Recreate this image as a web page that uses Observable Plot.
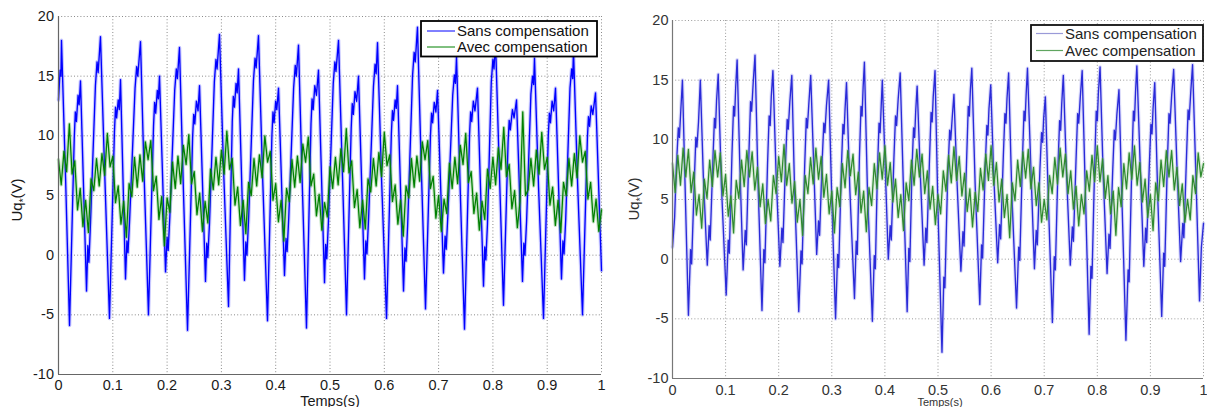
<!DOCTYPE html>
<html><head><meta charset="utf-8">
<script src="https://cdn.jsdelivr.net/npm/d3@7"></script>
<script src="https://cdn.jsdelivr.net/npm/@observablehq/plot@0.6"></script>
<style>
body{margin:0;background:#fff;}
#wrap{position:relative;width:1207px;height:407px;overflow:hidden;font-family:"Liberation Sans",Arial,sans-serif;background:#fff;}
.pane{position:absolute;top:0;}
</style></head><body><div id="wrap"></div>
<script>
// ---------- data ----------
const xTicks = [0,0.1,0.2,0.3,0.4,0.5,0.6,0.7,0.8,0.9,1];
const yTicks = [-10,-5,0,5,10,15,20];
const seriesNames = ["Sans compensation","Avec compensation"];
const xLabel = "Temps(s)";
const greenDt = 0.005; // sampling step of the "Avec compensation" traces (s)

// Left panel, "Sans compensation" [time s, Uq* V]
const leftBlue = [
[0,13.0],[0.003,15.5],[0.0045,15.0],[0.0055,18.0],
[0.013,6.5],[0.0203,-5.9],[0.029,9.8],[0.031,12.0],[0.033,11.2],[0.036,13.4],[0.038,12.6],[0.0405,14.6],
[0.0516,-3.0],[0.054,0.8],[0.056,-0.6],[0.059,2.8],[0.068,14.2],[0.071,16.2],[0.073,15.3],[0.0773,18.3],
[0.085,7.0],[0.0939,-5.3],[0.103,10.3],[0.105,12.4],[0.107,11.5],[0.110,13.0],[0.112,12.2],[0.1142,14.7],
[0.1234,-2.0],[0.126,1.2],[0.128,0.2],[0.131,3.0],[0.141,14.0],[0.144,15.8],[0.146,15.0],[0.1510,17.9],
[0.158,6.2],[0.1657,-5.0],[0.175,10.8],[0.177,12.8],[0.179,11.9],[0.182,13.8],[0.184,13.1],[0.1860,15.0],
[0.1971,-1.4],[0.200,1.5],[0.202,0.4],[0.205,3.2],[0.214,13.8],[0.217,15.6],[0.219,14.8],[0.2228,17.4],
[0.230,5.5],[0.2376,-6.3],[0.247,9.9],[0.249,11.8],[0.251,11.0],[0.254,12.9],[0.257,12.1],[0.2597,14.2],
[0.2707,-2.2],[0.273,1.0],[0.275,-0.2],[0.278,2.6],[0.287,14.5],[0.290,16.4],[0.292,15.6],[0.2965,18.5],
[0.304,7.2],[0.3131,-4.3],[0.320,11.2],[0.322,13.3],[0.324,12.4],[0.327,14.4],[0.329,13.6],[0.3315,15.6],
[0.3425,-2.1],[0.345,1.1],[0.347,0.0],[0.350,2.9],[0.359,14.6],[0.362,16.5],[0.364,15.7],[0.3683,18.4],
[0.376,6.4],[0.3849,-5.5],[0.393,10.0],[0.395,12.0],[0.397,11.1],[0.400,12.9],[0.402,12.2],[0.4052,14.0],
[0.4162,-1.7],[0.419,1.4],[0.421,0.3],[0.424,3.1],[0.433,14.0],[0.436,15.9],[0.438,15.0],[0.4420,17.6],
[0.449,5.8],[0.4567,-6.1],[0.465,11.0],[0.467,13.1],[0.469,12.2],[0.472,14.2],[0.475,13.4],[0.4788,15.5],
[0.4899,-2.3],[0.492,0.9],[0.494,-0.3],[0.497,2.7],[0.506,14.4],[0.509,16.2],[0.511,15.4],[0.5157,18.0],
[0.523,6.6],[0.5304,-5.0],[0.539,10.6],[0.541,12.7],[0.543,11.8],[0.546,13.7],[0.549,12.9],[0.5525,15.0],
[0.5635,-2.0],[0.566,1.2],[0.568,0.1],[0.571,3.0],[0.580,14.1],[0.583,16.0],[0.585,15.2],[0.5875,17.8],
[0.595,6.3],[0.6041,-5.3],[0.613,10.2],[0.615,12.1],[0.617,11.3],[0.620,13.0],[0.622,12.3],[0.6243,14.2],
[0.6354,-3.0],[0.638,0.6],[0.640,-0.5],[0.643,2.5],[0.652,15.0],[0.655,17.0],[0.657,16.2],[0.6611,19.1],
[0.668,7.5],[0.6759,-4.5],[0.685,10.0],[0.687,11.9],[0.689,11.1],[0.692,12.8],[0.695,12.0],[0.6980,13.8],
[0.7090,-1.5],[0.712,1.6],[0.714,0.5],[0.717,3.3],[0.726,13.4],[0.729,15.1],[0.731,14.4],[0.7330,16.6],
[0.740,5.2],[0.7477,-6.2],[0.757,10.1],[0.759,12.0],[0.761,11.2],[0.764,12.9],[0.767,12.1],[0.7716,14.0],
[0.7827,-2.6],[0.785,0.7],[0.787,-0.4],[0.790,2.6],[0.797,14.5],[0.800,16.4],[0.802,15.6],[0.8048,17.9],
[0.812,6.9],[0.8195,-4.2],[0.828,9.5],[0.830,11.3],[0.832,10.5],[0.836,12.2],[0.839,11.5],[0.8435,13.0],
[0.8545,-2.2],[0.857,1.0],[0.859,0.0],[0.862,2.8],[0.870,13.5],[0.873,15.0],[0.875,14.3],[0.8766,16.5],
[0.884,5.8],[0.8932,-5.3],[0.902,10.0],[0.904,11.9],[0.906,11.1],[0.909,12.9],[0.912,12.1],[0.9153,14.0],
[0.9263,-2.0],[0.929,1.2],[0.931,0.1],[0.934,2.9],[0.942,14.0],[0.945,15.6],[0.947,14.8],[0.9484,17.2],
[0.956,6.0],[0.9650,-5.0],[0.974,9.8],[0.976,11.6],[0.978,10.8],[0.981,12.5],[0.984,11.8],[0.9890,13.6],
[1.000,-1.3]
];

// Left panel, "Avec compensation" values (one every greenDt s)
const leftGreen = [
8.0,5.9,8.7,7.0,11.0,6.8,7.9,3.8,5.6,2.4,
4.6,1.9,6.4,5.4,8.1,5.8,8.5,6.7,10.2,7.4,
8.3,4.4,5.8,2.6,4.5,1.5,6.0,4.9,8.2,5.7,
8.4,6.2,9.5,8.0,9.6,5.4,6.6,3.0,4.9,0.8,
4.8,3.6,7.8,5.6,8.3,6.0,9.2,7.6,10.1,6.0,
7.0,3.4,5.2,2.0,4.5,2.7,7.2,5.5,8.2,5.9,
8.8,6.8,10.4,7.2,8.1,4.2,5.7,2.5,4.6,1.8,
6.1,5.0,8.1,5.8,8.4,6.5,10.0,7.8,8.7,4.6,
6.0,2.8,4.6,1.2,5.6,4.5,8.0,5.7,8.3,6.1,
9.3,7.8,9.9,5.8,6.8,3.3,5.1,2.1,4.4,3.2,
7.4,5.6,8.2,5.9,8.9,7.0,10.6,6.9,7.9,4.0,
5.5,2.3,4.6,2.2,6.4,5.3,8.1,5.8,8.6,6.6,
10.3,7.5,8.4,4.5,5.9,2.6,4.6,1.6,5.8,4.8,
8.1,5.7,8.3,6.2,9.5,8.0,9.6,5.6,6.6,3.1,
5.0,2.0,4.7,3.5,7.7,5.6,8.2,6.0,9.2,7.6,
10.2,6.1,7.0,3.5,5.2,2.1,4.5,3.0,7.2,5.6,
8.2,5.9,9.0,7.2,10.7,6.6,7.6,3.9,5.4,2.3,
4.5,12.0,5.0,5.5,8.1,5.8,8.8,6.8,10.3,7.2,
8.2,4.2,5.7,2.5,4.6,1.9,6.1,5.0,8.1,5.8,
8.5,6.5,10.0,7.8,8.7,4.7,6.1,2.8,4.7,2.0,
3.8
];

// Right panel, "Sans compensation" [time s, Uq* V]
const rightBlue = [
[0.000,1.0],[0.004,3.5],[0.007,7.5],[0.011,11.0],[0.013,10.2],[0.016,12.8],[0.0187,15.0],
[0.024,5.6],[0.0300,-4.7],[0.034,0.8],[0.036,-0.4],[0.041,6.5],[0.044,10.2],[0.046,9.4],[0.049,11.5],[0.0524,15.0],
[0.058,7.0],[0.0655,-0.5],[0.069,2.8],[0.071,1.6],[0.076,8.2],[0.079,11.8],[0.081,11.0],[0.083,13.3],[0.0861,15.5],
[0.092,6.3],[0.1011,-3.0],[0.105,1.6],[0.107,0.5],[0.112,8.8],[0.115,12.8],[0.117,12.0],[0.119,14.4],[0.1217,16.7],
[0.127,7.5],[0.1330,-0.9],[0.137,2.4],[0.139,1.2],[0.144,9.0],[0.147,13.2],[0.149,12.4],[0.152,14.8],[0.1554,17.1],
[0.161,6.5],[0.1685,-4.3],[0.172,0.8],[0.174,-0.3],[0.179,8.0],[0.182,12.0],[0.184,11.2],[0.186,13.6],[0.1891,15.8],
[0.195,7.3],[0.2022,-0.6],[0.206,2.6],[0.208,1.4],[0.213,8.3],[0.216,11.7],[0.218,10.9],[0.221,13.2],[0.2247,15.4],
[0.230,5.6],[0.2378,-4.4],[0.242,0.7],[0.244,-0.4],[0.249,7.9],[0.252,11.8],[0.254,11.0],[0.257,13.2],[0.2603,15.4],
[0.266,7.8],[0.2715,0.4],[0.275,3.2],[0.277,2.0],[0.282,8.4],[0.285,11.4],[0.287,10.6],[0.290,12.9],[0.2940,15.0],
[0.300,5.0],[0.3071,-5.0],[0.311,0.4],[0.313,-0.7],[0.318,7.6],[0.321,11.3],[0.323,10.5],[0.325,12.6],[0.3277,14.8],
[0.334,5.8],[0.3427,-3.3],[0.346,1.5],[0.348,0.4],[0.352,8.5],[0.355,12.8],[0.357,12.0],[0.359,14.4],[0.3614,16.5],
[0.367,6.0],[0.3764,-5.2],[0.380,0.3],[0.382,-0.8],[0.386,7.5],[0.389,11.4],[0.391,10.6],[0.393,12.8],[0.3951,15.0],
[0.401,7.2],[0.4064,0.0],[0.410,2.8],[0.412,1.6],[0.417,8.5],[0.420,12.0],[0.422,11.2],[0.425,13.4],[0.4288,15.6],
[0.435,5.8],[0.4419,-4.4],[0.445,0.9],[0.447,-0.2],[0.451,7.6],[0.454,11.0],[0.456,10.2],[0.458,12.4],[0.4607,14.5],
[0.467,6.8],[0.4738,-0.5],[0.477,2.6],[0.479,1.4],[0.484,8.4],[0.487,12.3],[0.489,11.5],[0.491,13.6],[0.4944,15.8],
[0.500,4.0],[0.5075,-7.8],[0.511,-1.5],[0.513,-2.4],[0.518,6.5],[0.522,10.8],[0.524,10.0],[0.527,12.0],[0.5300,13.8],
[0.536,6.3],[0.5431,-1.0],[0.547,2.3],[0.549,1.1],[0.554,8.5],[0.557,12.8],[0.559,12.0],[0.561,14.2],[0.5637,16.0],
[0.570,6.2],[0.5787,-3.8],[0.582,1.2],[0.584,0.1],[0.589,7.8],[0.592,11.2],[0.594,10.4],[0.596,12.6],[0.5993,14.6],
[0.605,7.0],[0.6124,-0.3],[0.616,2.9],[0.618,1.7],[0.623,8.6],[0.626,12.2],[0.628,11.4],[0.630,13.5],[0.6330,15.6],
[0.639,5.5],[0.6479,-4.1],[0.652,1.0],[0.654,-0.1],[0.659,8.3],[0.662,12.4],[0.664,11.6],[0.666,13.8],[0.6685,16.0],
[0.675,7.5],[0.6816,-0.8],[0.685,2.4],[0.687,1.2],[0.692,7.6],[0.695,10.6],[0.697,9.8],[0.699,11.8],[0.7022,13.6],
[0.708,4.6],[0.7154,-5.3],[0.719,0.2],[0.721,-0.9],[0.726,7.8],[0.729,11.6],[0.731,10.8],[0.733,13.0],[0.7360,15.4],
[0.742,7.2],[0.7491,-0.5],[0.753,2.7],[0.755,1.5],[0.760,8.4],[0.763,12.2],[0.765,11.4],[0.768,13.6],[0.7715,15.8],
[0.778,4.8],[0.7846,-6.3],[0.788,-0.6],[0.790,-1.6],[0.795,7.8],[0.798,12.4],[0.800,11.6],[0.802,13.9],[0.8052,16.1],
[0.811,7.2],[0.8184,-1.2],[0.822,2.1],[0.824,0.9],[0.829,7.4],[0.832,10.8],[0.834,10.0],[0.837,12.2],[0.8408,14.2],
[0.847,4.0],[0.8539,-6.8],[0.858,-0.9],[0.860,-1.9],[0.865,7.9],[0.868,12.4],[0.870,11.6],[0.872,14.0],[0.8745,16.2],
[0.881,7.6],[0.8876,-0.6],[0.891,2.6],[0.893,1.4],[0.898,7.9],[0.901,11.3],[0.903,10.5],[0.905,12.6],[0.9082,14.8],
[0.914,5.0],[0.9213,-4.8],[0.925,0.5],[0.927,-0.6],[0.932,8.2],[0.935,12.2],[0.937,11.4],[0.940,13.7],[0.9438,15.9],
[0.950,7.8],[0.9569,-0.2],[0.961,3.0],[0.963,1.8],[0.968,8.6],[0.971,12.5],[0.973,11.7],[0.976,14.0],[0.9794,16.3],
[0.986,6.5],[0.9925,-3.5],[0.996,1.0],[1.000,3.0]
];

// Right panel, "Avec compensation" values (one every greenDt s)
const rightGreen = [
8.0,5.6,8.7,6.2,9.3,6.9,9.2,5.6,7.3,3.7,
5.4,2.6,6.7,5.1,8.3,6.1,9.1,6.9,8.9,5.3,
7.1,3.6,5.3,2.2,6.6,5.1,8.3,6.1,9.1,6.9,
9.0,5.8,7.7,4.4,6.3,3.0,5.0,3.2,7.0,5.5,
8.6,6.5,9.6,6.2,8.0,4.7,6.5,3.1,5.0,2.0,
7.0,5.5,8.5,6.3,9.3,6.7,8.6,5.2,7.1,3.8,
5.7,2.2,6.0,4.4,8.0,6.0,9.1,7.0,8.8,5.4,
7.3,3.9,5.7,2.3,6.0,4.5,8.0,5.9,8.9,6.7,
9.5,6.2,8.1,4.8,6.7,3.5,5.4,2.4,6.4,4.9,
8.3,6.2,9.2,6.9,8.8,5.5,7.4,4.2,6.1,2.9,
5.4,3.8,7.4,5.7,8.7,6.4,9.4,6.6,8.6,5.3,
7.2,4.0,5.9,2.7,5.6,4.0,7.6,5.8,8.8,6.6,
9.5,6.2,8.1,4.8,6.7,3.5,5.4,1.8,6.4,4.9,
8.3,6.1,9.0,6.8,9.2,5.9,7.7,4.5,6.4,3.1,
5.0,3.3,7.0,5.5,8.5,6.3,9.3,6.9,8.8,5.5,
7.4,4.2,6.1,2.8,5.4,3.8,7.4,5.7,8.7,6.5,
9.5,6.5,8.4,5.1,7.0,3.8,5.7,2.0,6.0,4.4,
8.0,5.9,8.9,6.7,9.5,6.2,8.1,4.8,6.7,3.5,
5.4,2.4,6.4,4.9,8.3,6.1,9.1,6.9,9.1,5.8,
7.7,4.5,6.3,3.1,5.0,3.3,7.0,5.5,8.9,6.9,
8.0
];

// ---------- drawing ----------
const toRows = vals => vals.map((v, i) => ({t: i * greenDt, v}));
const fmtX = d => String(+d.toFixed(1));
const fmtY = d => String(d);

function panel(o) {
  return Plot.plot({
    width: o.width, height: 407,
    marginLeft: o.ml, marginRight: o.mr, marginTop: o.mt, marginBottom: o.mb,
    x: {domain: [0, 1]},
    y: {domain: [-10, 20]},
    style: `background:transparent;overflow:visible;font-family:"Liberation Sans",Arial,sans-serif;font-size:14.5px;color:${o.text};`,
    marks: [
      Plot.ruleX(xTicks.slice(1), {stroke: o.grid, strokeWidth: 1, strokeDasharray: "1,2.2"}),
      Plot.ruleY(yTicks.slice(1), {stroke: o.grid, strokeWidth: 1, strokeDasharray: "1,2.2"}),
      Plot.line(o.blue, {x: d => d[0], y: d => d[1], stroke: o.blueHalo, strokeWidth: 3.6, strokeOpacity: 0.3}),
      Plot.line(o.blue, {x: d => d[0], y: d => d[1], stroke: o.blueC, strokeWidth: 1.35}),
      Plot.line(toRows(o.green), {x: "t", y: "v", stroke: o.greenHalo, strokeWidth: 3.4, strokeOpacity: 0.3}),
      Plot.line(toRows(o.green), {x: "t", y: "v", stroke: o.greenC, strokeWidth: 1.25}),
      Plot.ruleX([0], {stroke: o.axis, strokeWidth: 1.2}),
      Plot.ruleY([-10], {stroke: o.axis, strokeWidth: 1.2}),
      Plot.axisX(xTicks, {tickSize: 0, tickPadding: o.xpad, tickFormat: fmtX, label: null}),
      Plot.axisY(yTicks, {tickSize: 0, tickPadding: o.ypad, tickFormat: fmtY, label: null})
    ]
  });
}

const wrap = document.getElementById("wrap");
function place(svg, left) {
  const d = document.createElement("div");
  d.className = "pane";
  d.style.left = left + "px";
  d.appendChild(svg);
  wrap.appendChild(d);
}

place(panel({width: 602, ml: 58, mr: 1, mt: 16, mb: 33, xpad: 5, ypad: 4.5,
  blue: leftBlue, green: leftGreen,
  blueC: "#0000ff", blueHalo: "#4a4aff", greenC: "#008000", greenHalo: "#2e9a2e",
  grid: "#8a8a8a", axis: "#666", text: "#1a1a1a"}), 0);

place(panel({width: 607, ml: 72, mr: 4, mt: 20, mb: 29, xpad: 6, ypad: 4,
  blue: rightBlue, green: rightGreen,
  blueC: "#2a2ad8", blueHalo: "#8080ee", greenC: "#2f8a2f", greenHalo: "#78b878",
  grid: "#9a9a9a", axis: "#777", text: "#333"}), 600);

// overlay: legends and axis titles
const ov = document.createElementNS("http://www.w3.org/2000/svg", "svg");
ov.setAttribute("width", 1207); ov.setAttribute("height", 407);
ov.style.cssText = "position:absolute;left:0;top:0;overflow:visible;";
ov.innerHTML = `
<g font-family="Liberation Sans, Arial, sans-serif">
  <rect x="421" y="21" width="176" height="35.5" fill="#fff" stroke="#000" stroke-width="1.8"/>
  <line x1="427" x2="455" y1="31" y2="31" stroke="#0000ff" stroke-width="1"/>
  <line x1="427" x2="455" y1="47" y2="47" stroke="#008000" stroke-width="1"/>
  <text x="457" y="36.3" font-size="15" fill="#111">${seriesNames[0]}</text>
  <text x="457" y="52.3" font-size="15" fill="#111">${seriesNames[1]}</text>
  <text x="330" y="405.5" font-size="14.5" text-anchor="middle" fill="#1a1a1a">${xLabel}</text>
  <text transform="translate(21.5,200) rotate(-90)" font-size="15" text-anchor="middle" fill="#1a1a1a">Uq<tspan font-size="10" dy="5">*</tspan><tspan dy="-5">(V)</tspan></text>

  <rect x="1031" y="25" width="172" height="36" fill="#fff" stroke="#111" stroke-width="1.8"/>
  <line x1="1036" x2="1063" y1="33.5" y2="33.5" stroke="#9a9ad8" stroke-width="1.2"/>
  <line x1="1036" x2="1063" y1="50.5" y2="50.5" stroke="#5fa55f" stroke-width="1.2"/>
  <text x="1065" y="38.8" font-size="15" fill="#222">${seriesNames[0]}</text>
  <text x="1065" y="55.8" font-size="15" fill="#222">${seriesNames[1]}</text>
  <text x="940" y="406" font-size="11" text-anchor="middle" fill="#333">${xLabel}</text>
  <text transform="translate(639,199) rotate(-90)" font-size="15" text-anchor="middle" fill="#333">Uq<tspan font-size="10" dy="5">*</tspan><tspan dy="-5">(V)</tspan></text>
</g>`;
wrap.appendChild(ov);
</script></body></html>
